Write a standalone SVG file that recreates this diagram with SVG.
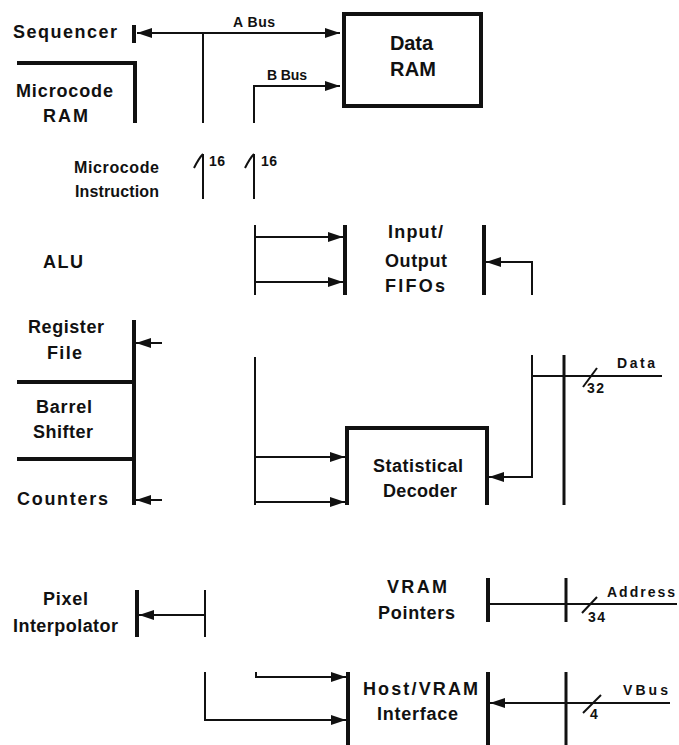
<svg xmlns="http://www.w3.org/2000/svg" width="679" height="745" viewBox="0 0 679 745">
<style>
text{font-family:"Liberation Sans",Arial,sans-serif;fill:#111;font-weight:bold}
.L{font-size:18px}
.M{font-size:16px}
.S{font-size:14px}
.B{font-size:20px}
.bar{stroke:#111;stroke-width:4;fill:none}
.ln{stroke:#111;stroke-width:2;fill:none}
.ar{stroke:#111;stroke-width:2;fill:none;marker-end:url(#ah)}
</style>
<defs>
<marker id="ah" markerUnits="userSpaceOnUse" markerWidth="17" markerHeight="10" refX="15" refY="5" orient="auto-start-reverse">
<path d="M0,0 L15,5 L0,10 z" fill="#111"/>
</marker>
</defs>
<rect width="679" height="745" fill="#fff"/>
<g id="sequencer">
<line class="bar" x1="134" y1="25" x2="134" y2="43"/>
<text class="L" x="13" y="38" textLength="104" lengthAdjust="spacing">Sequencer</text>
</g>
<g id="microcode-ram">
<path class="bar" d="M17,63 H135 V123"/>
<text class="L" x="16" y="97" textLength="97" lengthAdjust="spacing">Microcode</text>
<text class="L" x="43" y="122" textLength="45" lengthAdjust="spacing">RAM</text>
</g>
<g id="data-ram">
<rect class="bar" x="344" y="14" width="137" height="92"/>
<text class="B" x="390" y="50" textLength="43" lengthAdjust="spacing">Data</text>
<text class="B" x="390" y="76" textLength="46" lengthAdjust="spacing">RAM</text>
</g>
<g id="microcode-instruction">
<text class="M" x="74" y="173" textLength="85" lengthAdjust="spacing">Microcode</text>
<text class="M" x="75" y="197" textLength="84" lengthAdjust="spacing">Instruction</text>
</g>
<g id="alu">
<text class="L" x="43" y="268" textLength="40" lengthAdjust="spacing">ALU</text>
</g>
<g id="io-fifos">
<line class="bar" x1="345" y1="225" x2="345" y2="295"/>
<line class="bar" x1="484" y1="225" x2="484" y2="295"/>
<text class="L" x="388" y="238" textLength="55" lengthAdjust="spacing">Input/</text>
<text class="L" x="385" y="267" textLength="62" lengthAdjust="spacing">Output</text>
<text class="L" x="385" y="292" textLength="60" lengthAdjust="spacing">FIFOs</text>
</g>
<g id="register-file">
<line class="bar" x1="134" y1="320" x2="134" y2="505"/>
<line class="bar" x1="17" y1="382" x2="134" y2="382"/>
<line class="bar" x1="17" y1="459" x2="134" y2="459"/>
<text class="L" x="28" y="333" textLength="76" lengthAdjust="spacing">Register</text>
<text class="L" x="47" y="359" textLength="35" lengthAdjust="spacing">File</text>
</g>
<g id="barrel-shifter">
<text class="L" x="36" y="413" textLength="56" lengthAdjust="spacing">Barrel</text>
<text class="L" x="33" y="438" textLength="60" lengthAdjust="spacing">Shifter</text>
</g>
<g id="counters">
<text class="L" x="17" y="505" textLength="91" lengthAdjust="spacing">Counters</text>
</g>
<g id="statistical-decoder">
<path class="bar" d="M347,505 V428 H487 V505"/>
<text class="L" x="373" y="472" textLength="90" lengthAdjust="spacing">Statistical</text>
<text class="L" x="383" y="497" textLength="74" lengthAdjust="spacing">Decoder</text>
</g>
<g id="pixel-interpolator">
<line class="bar" x1="137" y1="590" x2="137" y2="637"/>
<text class="L" x="43" y="605" textLength="45" lengthAdjust="spacing">Pixel</text>
<text class="L" x="13" y="632" textLength="105" lengthAdjust="spacing">Interpolator</text>
</g>
<g id="vram-pointers">
<line class="bar" x1="488" y1="578" x2="488" y2="622"/>
<text class="L" x="387" y="593" textLength="60" lengthAdjust="spacing">VRAM</text>
<text class="L" x="378" y="619" textLength="77" lengthAdjust="spacing">Pointers</text>
</g>
<g id="host-vram-interface">
<line class="bar" x1="348" y1="672" x2="348" y2="745"/>
<line class="bar" x1="488" y1="672" x2="488" y2="745"/>
<text class="L" x="363" y="695" textLength="115" lengthAdjust="spacing">Host/VRAM</text>
<text class="L" x="377" y="720" textLength="81" lengthAdjust="spacing">Interface</text>
</g>
<g id="connectors">
<line class="ln" x1="137" y1="33" x2="340" y2="33" style="marker-start:url(#ah);marker-end:url(#ah)"/>
<text class="S" x="233" y="27" textLength="42" lengthAdjust="spacing">A Bus</text>
<line class="ln" x1="203" y1="33" x2="203" y2="123"/>
<path class="ar" d="M254,123 V86 H340"/>
<text class="S" x="267" y="80" textLength="40" lengthAdjust="spacing">B Bus</text>
<path class="ln" d="M203,199 V154 M194,168 Q199,158 203,154"/>
<text class="S" x="209" y="166" textLength="16" lengthAdjust="spacing">16</text>
<path class="ln" d="M254,199 V154 M245,168 Q250,158 254,154"/>
<text class="S" x="261" y="166" textLength="16" lengthAdjust="spacing">16</text>
<line class="ln" x1="255" y1="225" x2="255" y2="295"/>
<path class="ar" d="M255,237 H343"/>
<path class="ar" d="M255,282 H343"/>
<path class="ar" d="M532,295 V262 H486"/>
<path class="ar" d="M162,343 H136"/>
<path class="ar" d="M162,500 H136"/>
<line class="ln" x1="255" y1="357" x2="255" y2="505"/>
<path class="ar" d="M255,457 H345"/>
<path class="ar" d="M255,502 H345"/>
<path class="ar" d="M532,355 V477 H489"/>
<line class="ln" x1="532" y1="376" x2="662" y2="376"/>
<line class="ln" x1="564" y1="355" x2="564" y2="505" style="stroke-width:3"/>
<line class="ln" x1="583" y1="387" x2="597" y2="368"/>
<text class="S" x="617" y="368" textLength="38" lengthAdjust="spacing">Data</text>
<text class="S" x="587" y="393" textLength="17" lengthAdjust="spacing">32</text>
<line class="ln" x1="205" y1="590" x2="205" y2="637"/>
<path class="ar" d="M205,615 H139"/>
<line class="ln" x1="488" y1="604" x2="677" y2="604"/>
<line class="ln" x1="566" y1="578" x2="566" y2="622" style="stroke-width:3"/>
<line class="ln" x1="582" y1="613" x2="597" y2="597"/>
<text class="S" x="607" y="597" textLength="68" lengthAdjust="spacing">Address</text>
<text class="S" x="588" y="622" textLength="17" lengthAdjust="spacing">34</text>
<path class="ar" d="M205,672 V720 H346"/>
<path class="ar" d="M256,672 V677 H346"/>
<line class="ln" x1="566" y1="672" x2="566" y2="745" style="stroke-width:3"/>
<path class="ar" d="M670,703 H490"/>
<line class="ln" x1="583" y1="713" x2="601" y2="695"/>
<text class="S" x="623" y="695" textLength="45" lengthAdjust="spacing">VBus</text>
<text class="S" x="590" y="719" textLength="8" lengthAdjust="spacing">4</text>
</g>
</svg>
